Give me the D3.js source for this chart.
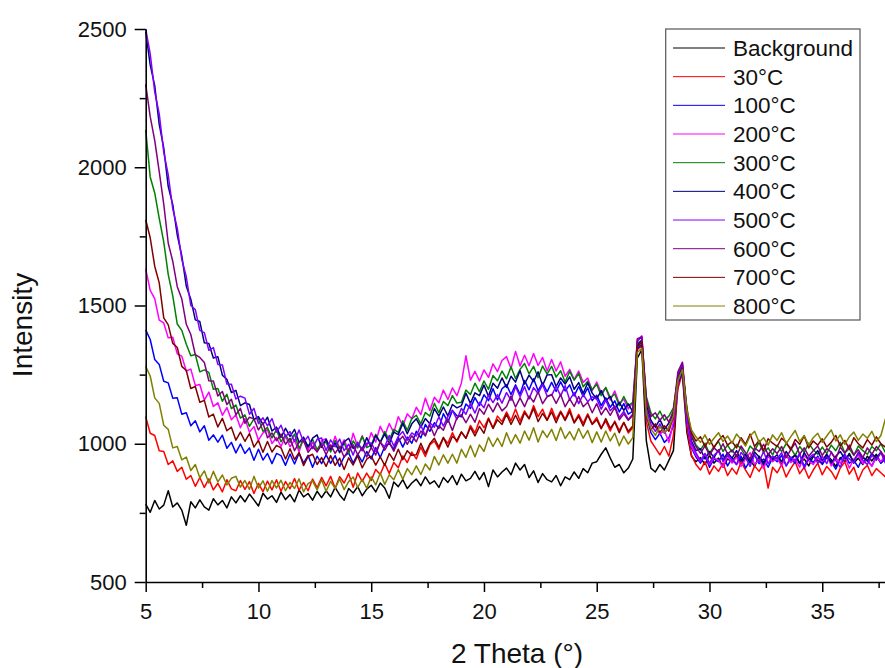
<!DOCTYPE html>
<html><head><meta charset="utf-8">
<script src="https://cdn.jsdelivr.net/npm/d3@7"></script>
<style>
html,body{margin:0;padding:0;background:#fff;}
svg{display:block;font-family:"Liberation Sans",Arial,Helvetica,sans-serif;}
</style>
</head><body>
<svg id="chart" width="885" height="668"></svg>
<script>
// ---------- DATA ----------
// 2-theta grid: 5.0 .. 38.0, step 0.2 (166 points)
const theta = d3.range(166).map(i => +(5 + i * 0.2).toFixed(1));

const seriesNames = ["Background", "30°C", "100°C", "200°C", "300°C", "400°C", "500°C", "600°C", "700°C", "800°C"];

const xMajorTicks = [5, 10, 15, 20, 25, 30, 35];
const xMinorTicks = [7.5, 12.5, 17.5, 22.5, 27.5, 32.5, 37.5];
const yMajorTicks = [500, 1000, 1500, 2000, 2500];
const yMinorTicks = [750, 1250, 1750, 2250];

const background = [
782,752,795,764,778,830,771,786,760,705,
790,768,797,772,760,801,779,795,768,808,
786,812,790,818,797,775,821,800,812,788,
825,798,816,790,833,808,820,796,828,805,
830,808,842,815,796,838,822,845,812,836,
850,826,858,840,803,862,845,870,838,858,
872,848,880,855,866,842,878,860,885,852,
890,866,875,900,870,896,845,905,880,898,
912,888,930,905,925,878,902,860,892,870,
862,885,848,880,870,898,875,910,895,930,
935,962,985,948,915,925,895,912,945,1310,
1340,1010,912,898,925,905,940,975,1220,1250,
1040,955,935,950,925,958,930,948,915,945,
935,960,928,952,940,918,955,932,962,938,
950,925,958,938,962,930,945,920,955,940,
928,960,942,918,950,935,965,930,948,925,
955,938,962,930,948,940];

const t30 = [
1098,1038,1030,975,972,925,938,900,915,872,
885,846,878,842,873,833,857,826,870,837,
830,867,835,863,820,857,827,865,833,870,
828,863,837,874,832,860,830,872,841,878,
848,882,839,881,858,892,843,894,864,894,
867,907,889,928,893,932,913,956,932,970,
945,988,954,996,1010,980,1021,1002,1040,1006,
1042,1020,1066,1039,1084,1058,1093,1058,1100,1080,
1115,1083,1126,1082,1119,1092,1138,1098,1125,1085,
1128,1088,1118,1089,1127,1078,1106,1074,1108,1072,
1095,1058,1082,1046,1082,1048,1077,1039,1058,1340,
1355,1080,1010,985,960,990,955,1030,1200,1255,
1060,960,925,905,935,890,920,900,930,885,
912,890,935,905,878,920,900,928,840,915,
895,925,880,910,935,892,915,875,905,930,
888,918,900,872,912,935,890,915,868,905,
922,885,910,895,880,912];

const t100 = [
1412,1377,1305,1287,1226,1220,1165,1166,1107,1112,
1065,1083,1043,1065,1013,1032,1006,1031,984,1005,
967,999,965,985,940,980,941,965,928,965,
957,922,963,927,966,930,958,915,955,928,
960,929,957,918,954,967,930,963,934,972,
945,986,950,990,1002,980,1023,988,1024,1002,
1045,1021,1070,1045,1076,1055,1109,1078,1120,1101,
1098,1144,1128,1167,1138,1177,1156,1199,1158,1199,
1213,1178,1213,1179,1229,1195,1235,1192,1220,1188,
1222,1189,1224,1191,1213,1173,1207,1171,1202,1156,
1175,1138,1166,1132,1155,1115,1145,1107,1118,1345,
1360,1105,1040,1015,1038,1005,1022,1065,1215,1260,
1080,985,952,930,958,915,945,935,962,920,
948,925,955,912,940,960,928,945,915,950,
935,958,920,945,930,962,918,948,932,955,
925,950,935,908,945,962,930,940,915,952,
938,920,955,930,945,925];

const t200 = [
1632,1555,1525,1447,1437,1383,1385,1325,1317,1263,
1270,1211,1214,1158,1187,1135,1148,1103,1131,1087,
1105,1058,1091,1042,1062,1013,1039,1051,1001,1022,
990,1027,989,1014,971,1020,978,1005,970,1012,
1018,976,1027,983,1014,973,1038,989,1029,989,
1040,1006,1063,1030,1073,1040,1098,1065,1108,1090,
1132,1105,1165,1120,1168,1148,1194,1160,1202,1174,
1220,1318,1230,1262,1227,1267,1240,1289,1261,1301,
1315,1272,1334,1281,1320,1282,1326,1283,1312,1263,
1305,1263,1296,1244,1269,1232,1263,1222,1238,1192,
1223,1184,1202,1158,1191,1145,1162,1126,1148,1375,
1390,1150,1080,1060,1035,1048,1005,1080,1225,1285,
1090,990,960,935,962,925,950,940,915,958,
930,952,918,945,968,925,942,910,955,935,
948,920,960,932,945,915,958,938,925,950,
935,962,920,948,930,955,912,945,960,928,
945,918,952,935,960,930];

const t300 = [
2135,1965,1907,1815,1730,1612,1535,1433,1410,1360,
1318,1323,1260,1267,1258,1197,1200,1154,1179,1127,
1140,1093,1104,1063,1090,1090,1045,1059,1021,1051,
1007,1032,1005,1035,983,1015,990,1016,979,1002,
1005,970,1012,982,1002,965,1010,985,1026,986,
995,1034,1004,1044,1013,1052,1041,1083,1049,1091,
1103,1072,1113,1100,1146,1112,1153,1138,1174,1147,
1150,1194,1178,1219,1188,1227,1197,1247,1228,1263,
1235,1278,1236,1269,1290,1253,1280,1239,1281,1252,
1280,1241,1264,1223,1262,1230,1254,1206,1226,1196,
1215,1174,1204,1166,1180,1138,1171,1138,1150,1365,
1372,1170,1112,1090,1118,1085,1100,1130,1240,1275,
1130,1035,995,978,1002,965,990,1008,972,995,
970,998,982,955,992,975,1005,968,985,960,
995,972,1000,985,958,990,970,1002,978,962,
988,965,995,975,1005,968,982,958,992,975,
962,990,975,1000,968,985];

const t400 = [
2490,2370,2295,2155,2070,1930,1865,1755,1680,1570,
1523,1448,1442,1365,1363,1310,1315,1248,1233,1185,
1193,1138,1148,1142,1088,1098,1070,1096,1046,1060,
1023,1056,1027,1052,1005,1024,988,1020,1032,987,
1016,980,1002,968,1007,1020,983,1000,979,1022,
988,1030,1005,1036,999,1042,1033,1074,1036,1072,
1090,1060,1091,1072,1127,1100,1133,1101,1142,1130,
1138,1183,1146,1184,1174,1212,1172,1219,1201,1238,
1204,1244,1223,1264,1216,1248,1225,1260,1211,1249,
1250,1207,1238,1216,1242,1197,1221,1182,1220,1183,
1162,1192,1156,1171,1126,1150,1121,1144,1115,1355,
1375,1140,1085,1060,1088,1052,1075,1110,1245,1280,
1110,1010,975,982,945,972,950,978,940,968,
948,975,938,962,930,970,952,925,965,945,
960,935,972,948,958,928,968,942,955,975,
940,962,930,955,972,945,960,935,968,950,
938,965,948,970,942,958];

const t500 = [
2500,2410,2273,2193,2055,1972,1850,1780,1667,1604,
1500,1485,1410,1402,1338,1348,1287,1285,1216,1215,
1162,1172,1165,1107,1128,1073,1094,1065,1091,1042,
1067,1025,1044,1008,1050,1006,1027,983,1016,1021,
976,1014,989,1017,975,998,959,1006,974,1002,
1003,972,1004,989,1030,992,1026,1044,1013,1039,
1028,1067,1029,1076,1060,1097,1064,1099,1121,1088,
1128,1107,1146,1111,1150,1130,1176,1149,1178,1147,
1185,1157,1207,1170,1206,1162,1203,1182,1214,1173,
1175,1208,1173,1210,1159,1185,1145,1178,1152,1170,
1162,1125,1158,1119,1137,1095,1117,1088,1108,1370,
1388,1125,1070,1045,1072,1038,1060,1095,1250,1290,
1100,1000,968,938,965,930,958,975,935,960,
942,925,968,950,918,960,935,972,928,955,
945,968,920,952,938,965,910,948,962,930,
955,928,970,940,915,958,945,932,966,940,
925,958,940,968,930,952];

const t600 = [
2300,2183,2097,1984,1867,1725,1660,1568,1524,1432,
1395,1322,1312,1294,1228,1227,1173,1189,1142,1161,
1105,1128,1074,1096,1090,1050,1075,1022,1039,1011,
1035,998,1020,975,1005,1012,969,989,971,996,
960,996,965,990,951,980,996,960,988,952,
987,959,1008,977,1006,973,1009,1027,998,1029,
1007,1046,1029,1068,1029,1065,1049,1089,1048,1094,
1105,1076,1107,1078,1127,1107,1143,1115,1148,1119,
1135,1173,1133,1166,1134,1173,1151,1188,1145,1170,
1178,1146,1178,1134,1162,1135,1171,1134,1150,1112,
1145,1105,1130,1103,1132,1087,1108,1085,1102,1380,
1385,1160,1098,1112,1085,1105,1078,1120,1260,1295,
1120,1025,990,965,992,958,985,970,1000,962,
978,955,992,968,945,985,972,998,960,982,
965,990,950,978,1002,962,985,955,975,992,
958,982,970,945,988,965,995,960,978,950,
985,962,990,972,948,975];

const t700 = [
1810,1745,1642,1582,1455,1430,1363,1348,1280,1265,
1200,1207,1150,1157,1097,1107,1061,1092,1047,1060,
1013,1042,1009,1037,988,1012,969,1008,970,994,
985,945,982,943,968,921,954,962,925,950,
918,957,922,948,907,949,923,957,913,944,
955,923,953,922,965,940,980,942,975,958,
960,1002,965,1000,1020,988,1023,988,1027,1012,
1043,1020,1059,1028,1063,1038,1090,1055,1087,1070,
1107,1070,1103,1069,1112,1090,1128,1080,1110,1085,
1115,1076,1114,1084,1117,1075,1099,1064,1103,1070,
1087,1054,1091,1056,1078,1040,1077,1045,1064,1350,
1368,1110,1050,1072,1040,1065,1045,1098,1235,1270,
1115,1040,1010,1025,990,1018,985,1012,1030,995,
1008,985,1022,998,1035,990,1012,975,1018,1002,
990,1020,1005,978,1015,998,1028,985,1010,995,
1018,988,1005,1030,992,1012,980,1022,1000,985,
1015,995,1025,1000,988,1010];

const t800 = [
1280,1245,1166,1146,1067,1052,985,990,942,952,
903,925,877,902,858,900,862,887,851,875,
882,843,867,835,882,840,866,828,867,840,
868,830,860,838,873,826,856,866,833,870,
828,864,838,873,834,863,880,842,871,839,
881,851,894,853,888,870,907,872,910,888,
920,889,927,905,954,923,960,930,962,930,
980,951,994,953,996,972,1023,990,1020,990,
1040,1000,1033,1002,1046,1013,1058,1006,1047,1023,
1052,1012,1059,1019,1044,1014,1055,1020,1048,1004,
1043,1006,1046,1010,1038,993,1028,999,1022,1330,
1345,1110,1055,1030,1062,1040,1058,1100,1230,1268,
1120,1050,1025,1005,1032,998,1020,1040,1008,1028,
1002,1035,1015,992,1028,1045,1005,1022,995,1032,
1012,1040,1000,1025,1048,1008,1030,995,1022,1038,
1005,1028,1050,1010,1032,998,1025,1042,1012,1035,
1020,1045,1008,1030,1090,1015];

const seriesValues = [background, t30, t100, t200, t300, t400, t500, t600, t700, t800];

// ---------- STYLE ----------
const seriesColors = ["#000000", "#ff0000", "#0000ff", "#ff00ff", "#008000", "#000080", "#8000ff", "#800080", "#800000", "#808000"];

const svg = d3.select("#chart");
svg.append("rect").attr("width", 885).attr("height", 668).attr("fill", "#fff");

const x = d3.scaleLinear().domain([5, 38]).range([145.7, 889.9]);
const y = d3.scaleLinear().domain([500, 2500]).range([582, 29]);

// series
const line = d3.line().x((d, i) => x(theta[i])).y(d => y(d));
const data = seriesNames.map((n, k) => ({ name: n, color: seriesColors[k], values: seriesValues[k] }));

svg.append("g").selectAll("path").data(data).join("path")
  .attr("fill", "none")
  .attr("stroke", d => d.color)
  .attr("stroke-width", 1.5)
  .attr("stroke-linejoin", "round")
  .attr("d", d => line(d.values));

// axes
const axisFont = "22px";
const gx = svg.append("g").attr("transform", `translate(0,${y(500)})`)
  .call(d3.axisBottom(x).tickValues(xMajorTicks).tickSize(10).tickSizeOuter(0).tickPadding(11).tickFormat(d3.format("d")));
const gxm = svg.append("g").attr("transform", `translate(0,${y(500)})`)
  .call(d3.axisBottom(x).tickValues(xMinorTicks).tickSize(6).tickSizeOuter(0).tickFormat(""));
gxm.select(".domain").remove();

const gy = svg.append("g").attr("transform", `translate(${x(5)},0)`)
  .call(d3.axisLeft(y).tickValues(yMajorTicks).tickSize(11).tickSizeOuter(0).tickPadding(8).tickFormat(d3.format("d")));
const gym = svg.append("g").attr("transform", `translate(${x(5)},0)`)
  .call(d3.axisLeft(y).tickValues(yMinorTicks).tickSize(6).tickSizeOuter(0).tickFormat(""));
gym.select(".domain").remove();

svg.selectAll(".domain").attr("stroke", "#000").attr("stroke-width", 1.6);
svg.selectAll(".tick line").attr("stroke", "#000").attr("stroke-width", 1.5);
svg.selectAll(".tick text").attr("fill", "#111").style("font-size", axisFont)
  .style("font-family", '"Liberation Sans",Arial,sans-serif');

// axis titles
svg.append("text").attr("x", 517).attr("y", 663).attr("text-anchor", "middle")
  .style("font-size", "28px").attr("fill", "#111").text("2 Theta (°)");
svg.append("text").attr("transform", "translate(32,325) rotate(-90)").attr("text-anchor", "middle")
  .style("font-size", "28px").attr("fill", "#111").text("Intensity");

// legend
const lg = svg.append("g");
lg.append("rect").attr("x", 665.7).attr("y", 29).attr("width", 194.3).attr("height", 291)
  .attr("fill", "#fff").attr("stroke", "#555").attr("stroke-width", 1.2);
const rows = lg.selectAll("g.row").data(data).join("g").attr("class", "row")
  .attr("transform", (d, i) => `translate(0,${48 + i * 28.67})`);
rows.append("line").attr("x1", 673).attr("x2", 725).attr("y1", 0).attr("y2", 0)
  .attr("stroke", d => d.color).attr("stroke-width", 1);
rows.append("text").attr("x", 733).attr("y", 0).attr("dy", "0.36em")
  .style("font-size", "22.5px").attr("fill", "#111").text(d => d.name);
</script>
</body></html>
